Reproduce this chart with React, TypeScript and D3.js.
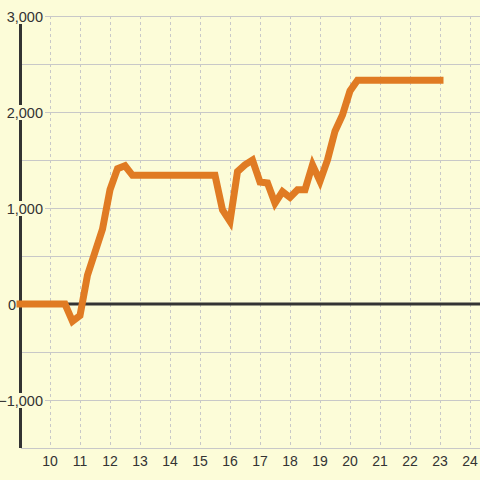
import React from "react";
import * as d3 from "d3";

const hours = [9, 10.5, 10.75, 11, 11.25, 11.5, 11.75, 12, 12.25, 12.5, 12.75, 15.5, 15.75, 16, 16.25, 16.5, 16.75, 17, 17.25, 17.5, 17.75, 18, 18.25, 18.5, 18.75, 19, 19.25, 19.5, 19.75, 20, 20.25, 23];
const values = [0, 0, -180, -120, 300, 540, 780, 1190, 1410, 1440, 1340, 1340, 980, 860, 1380, 1450, 1500, 1270, 1260, 1050, 1170, 1110, 1190, 1190, 1450, 1280, 1500, 1800, 1970, 2220, 2330, 2330];
const xTicks = [10, 11, 12, 13, 14, 15, 16, 17, 18, 19, 20, 21, 22, 23, 24];
const yGrid = [-1500, -1000, -500, 0, 500, 1000, 1500, 2000, 2500, 3000];
const yLabels = [-1000, 0, 1000, 2000, 3000];

const W = 480, H = 480;
const BG = "#fcfcd8";
const FONT = "Liberation Sans, Arial, sans-serif";

export default function App() {
  const x = d3.scaleLinear().domain([9, 25]).range([20, 500]);
  const y = d3.scaleLinear().domain([-1500, 3000]).range([448, 16]);
  const line = d3.line<number>().x((_, i) => x(hours[i])).y((d) => y(d));
  const fmt = d3.format(",");
  return (
    <svg width={W} height={H} style={{ position: "fixed", left: 0, top: 0, background: BG }}>
      <rect x={0} y={0} width={W} height={H} fill={BG} />
      {xTicks.map((t) => (
        <line key={"v" + t} x1={x(t) + 0.5} x2={x(t) + 0.5} y1={y(3000)} y2={y(-1500)} stroke="#c8c8c8" strokeDasharray="3,3" />
      ))}
      {yGrid.map((t) => (
        <line key={"h" + t} x1={21} x2={W} y1={y(t) + 0.5} y2={y(t) + 0.5} stroke="#c8c8c8" />
      ))}
      <line x1={20.5} x2={20.5} y1={y(3000)} y2={y(-1500)} stroke="#333" strokeWidth={3} />
      <line x1={20} x2={W} y1={y(0)} y2={y(0)} stroke="#333" strokeWidth={3} />
      {yLabels.map((t) => {
        const s = fmt(t);
        const right = t === 0 ? 16 : 43;
        const w = s.length * 7.5;
        return (
          <g key={"yl" + t}>
            <rect x={right - w} y={y(t) - 7} width={w + 2} height={15} fill={BG} />
            <text x={right} y={y(t) + 5.5} textAnchor="end" fontFamily={FONT} fontSize={14.5} fill="#333">{s}</text>
          </g>
        );
      })}
      <path d={line(values) || ""} fill="none" stroke="#e07b23" strokeWidth={7} strokeLinejoin="miter" strokeLinecap="square" />
      {xTicks.map((t) => (
        <text key={"xl" + t} x={x(t)} y={466} textAnchor="middle" fontFamily={FONT} fontSize={14} fill="#333">{t}</text>
      ))}
    </svg>
  );
}
